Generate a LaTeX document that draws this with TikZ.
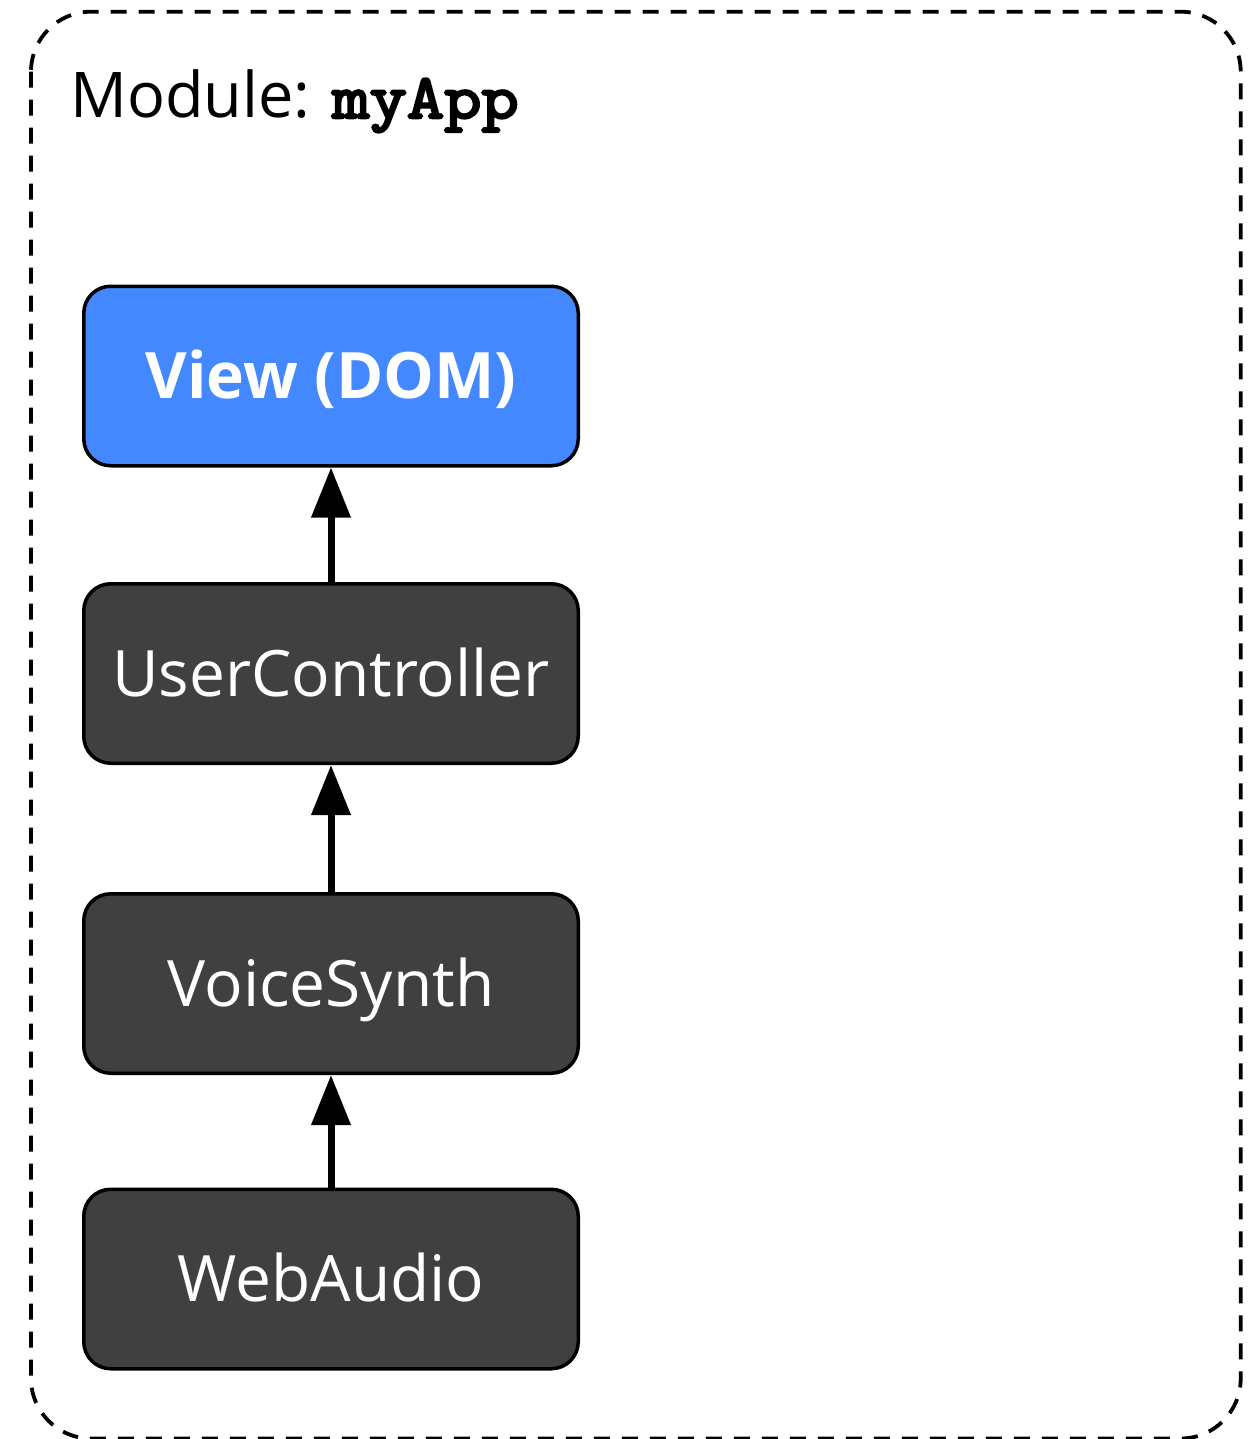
\documentclass[tikz,border=0pt]{standalone}
\usepackage{fontspec}
\setmainfont{Open Sans}
\newfontfamily\codefont[FakeBold=4,FakeStretch=1.15]{Latin Modern Mono}
\usetikzlibrary{arrows.meta}
\definecolor{viewblue}{HTML}{4488FF}
\definecolor{boxgrey}{HTML}{404040}
\tikzset{
  layerbox/.style={draw=black, line width=3.5pt, rounded corners=27pt,
    minimum width=494.5pt, minimum height=179.5pt, inner sep=0pt,
    text=white, font=\fontsize{64}{72}\selectfont,
    text height=45.7pt, text depth=0pt, fill=boxgrey},
  viewbox/.style={layerbox, fill=viewblue, font=\fontsize{64}{72}\selectfont\bfseries},
  dep/.style={line width=7pt, -{Triangle[length=50pt,width=38pt]}},
  modframe/.style={draw=black, line width=3.8pt, dash pattern=on 16pt off 12pt, rounded corners=60pt}
}
\begin{document}
\begin{tikzpicture}[x=1pt,y=-1pt]
\useasboundingbox (0,0) rectangle (1254,1439);
\clip (0,0) rectangle (1254,1439);
\draw[modframe] (31,11.7) rectangle (1240.7,1438.5);
\node[anchor=base west, inner sep=0pt, font=\fontsize{63}{70}\selectfont] (title) at (70,118)
  {Module: {\codefont\fontsize{63}{70}\selectfont myApp}};
\node[viewbox] (view) at (331,376) {View (DOM)};
\node[layerbox] (uc) at (331,673.5) {UserController};
\node[layerbox] (vs) at (331,983.5) {VoiceSynth};
\node[layerbox] (wa) at (331,1279) {WebAudio};
\draw[dep] (uc.north) -- (view.south);
\draw[dep] (vs.north) -- (uc.south);
\draw[dep] (wa.north) -- (vs.south);
\end{tikzpicture}
\end{document}
